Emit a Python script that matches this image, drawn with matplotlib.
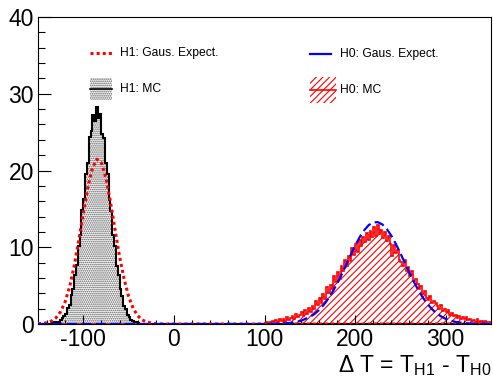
import numpy as np
import matplotlib
matplotlib.use('Agg')
import matplotlib.pyplot as plt
from matplotlib.patches import Rectangle
from matplotlib.lines import Line2D

plt.rcParams['font.family'] = ['Liberation Sans', 'DejaVu Sans']
plt.rcParams['mathtext.default'] = 'regular'
plt.rcParams['axes.unicode_minus'] = False
plt.rcParams['hatch.linewidth'] = 0.8

# binning of the histograms
bin_lo, bin_hi, bin_w = -150, 350, 2

# H1 MC histogram (first bin starts at -134)
h1_start = -134
h1_mc = [0.1, 0.2, 0.3, 0.2, 0.5, 0.8, 1.1, 1.3, 2.1, 2.5,
         3.8, 4.6, 6.4, 7.7, 10.1, 11.6, 14.8, 16.3, 19.6, 21.0,
         24.3, 25.1, 27.2, 26.5, 28.3, 26.9, 27.4, 24.8, 24.2, 21.0,
         19.6, 16.2, 14.7, 11.6, 10.2, 7.5, 6.4, 4.5, 3.7, 2.4,
         2.0, 1.2, 0.9, 0.5, 0.4, 0.2, 0.2, 0.1, 0.0]

# H0 MC histogram (first bin starts at 100)
h0_start = 100
h0_mc = [0.1, 0.3, 0.0, 0.2, 0.4, 0.2, 0.5, 0.3, 0.6, 0.4,
         0.7, 0.4, 0.9, 0.5, 0.8, 1.0, 0.7, 1.3, 0.9, 1.2,
         1.5, 1.0, 1.8, 1.3, 2.1, 1.6, 2.4, 2.0, 3.0, 2.5,
         3.4, 2.7, 3.9, 3.3, 4.8, 4.0, 5.1, 4.6, 6.3, 5.5,
         6.8, 5.9, 7.6, 6.9, 8.3, 7.5, 8.9, 8.2, 9.9, 9.0,
         10.4, 9.4, 10.9, 10.2, 11.4, 10.7, 11.8, 11.0, 12.1, 11.3,
         12.6, 11.5, 12.9, 11.7, 12.3, 11.2, 12.0, 10.8, 11.5, 10.4,
         8.8, 10.3, 9.2, 9.6, 8.4, 8.1, 7.6, 8.3, 6.9, 7.4,
         6.2, 6.9, 5.6, 5.9, 5.2, 4.6, 5.0, 3.9, 4.3, 3.4,
         3.1, 3.6, 2.7, 3.0, 2.8, 2.3, 2.0, 2.5, 1.7, 2.0,
         1.5, 1.8, 1.2, 1.4, 1.0, 1.2, 0.8, 1.1, 0.7, 0.9,
         0.6, 0.9, 0.5, 0.7, 0.4, 0.5, 0.3, 0.6, 0.3, 0.4,
         0.2, 0.4, 0.3, 0.2, 0.3]

# Gaussian expectations
h1_gaus_x = [-150, -145, -140, -135, -130, -125, -120, -115, -110, -105,
             -100, -95, -90, -85, -80, -75, -70, -65, -60, -55,
             -50, -45, -40, -35, -30, -20, -10, 350]
h1_gaus_y = [0.03, 0.07, 0.17, 0.39, 0.82, 1.61, 2.91, 4.89, 7.6, 10.9,
             14.5, 17.8, 20.3, 21.47, 21.0, 19.0, 15.9, 12.3, 8.8, 5.9,
             3.6, 2.05, 1.08, 0.53, 0.24, 0.04, 0.0, 0.0]

h0_gaus_x = [-150, 100, 110, 120, 130, 140,
             150, 155, 160, 165, 170, 175, 180, 185, 190, 195,
             200, 205, 210, 215, 220, 225, 230, 235, 240, 245,
             250, 255, 260, 265, 270, 275, 280, 285, 290, 295, 300,
             310, 320, 330, 340, 350]
h0_gaus_y = [0.0, 0.0, 0.02, 0.06, 0.17, 0.41,
             0.91, 1.29, 1.80, 2.44, 3.23, 4.16, 5.24, 6.42, 7.68, 8.96,
             10.19, 11.3, 12.21, 12.88, 13.24, 13.27, 12.98, 12.37, 11.50, 10.42,
             9.21, 7.94, 6.67, 5.47, 4.37, 3.40, 2.59, 1.92, 1.38, 0.98, 0.67,
             0.29, 0.12, 0.04, 0.013, 0.004]

edges = np.arange(bin_lo, bin_hi + bin_w, bin_w)


def full_hist(start, vals):
    c = np.zeros(len(edges) - 1)
    i = (start - bin_lo) // bin_w
    c[i:i + len(vals)] = vals
    return c


h1 = full_hist(h1_start, h1_mc)
h0 = full_hist(h0_start, h0_mc)

W, H = 493, 379
fig = plt.figure(figsize=(W / 100, H / 100), dpi=100)
ax = fig.add_axes([38 / W, 55 / H, 453 / W, 307 / H])

# histograms
ax.stairs(h0, edges, fill=True, facecolor='white', edgecolor='red',
          hatch='/////', linewidth=0, zorder=1)
ax.stairs(h0, edges, color='red', linewidth=1.2, zorder=2)
ax.stairs(h1, edges, fill=True, facecolor='white', edgecolor='#555555',
          hatch='........', linewidth=0, zorder=1)
ax.stairs(h1, edges, color='black', linewidth=1.5, zorder=2)

# gaussian expectations
ax.plot(h1_gaus_x, h1_gaus_y, color='red', linewidth=2.2,
        linestyle=(0, (1, 1)), dash_capstyle='butt', zorder=3)
ax.plot(h0_gaus_x, h0_gaus_y, color='blue', linewidth=1.6,
        linestyle=(0, (4.5, 2)), zorder=3)

ax.set_xlim(bin_lo, bin_hi)
ax.set_ylim(0, 40)
ax.set_xticks([-100, 0, 100, 200, 300])
ax.set_xticks(np.arange(-140, 351, 20), minor=True)
ax.set_yticks([0, 10, 20, 30, 40])
ax.set_yticks(np.arange(0, 41, 2), minor=True)
ax.tick_params(which='both', direction='in', top=False, right=False,
               labelsize=16.5, width=0.8)
ax.tick_params(axis='y', which='major', length=9.5, pad=3)
ax.tick_params(axis='y', which='minor', length=5)
ax.tick_params(axis='x', which='major', length=6.5, pad=3)
ax.tick_params(axis='x', which='minor', length=3)
for s in ax.spines.values():
    s.set_linewidth(0.8)

fig.text(491 / W, 1 - 372 / H, 'Δ T = T$_{H1}$ - T$_{H0}$', ha='right',
         va='baseline', fontsize=16.5)


# legend drawn by hand in figure pixels
def fx(x):
    return x / W


def fy(y):
    return 1 - y / H


tf = fig.transFigure
fig.add_artist(Line2D([fx(90), fx(112)], [fy(53), fy(53)], color='red',
                      linewidth=2.2, linestyle=(0, (1, 1)), transform=tf))
fig.text(fx(120), fy(53), 'H1: Gaus. Expect.', fontsize=8.7, va='center')

fig.add_artist(Rectangle((fx(90), fy(100)), fx(22), 22 / H, facecolor='white',
                         edgecolor='#555555', hatch='........', linewidth=0,
                         transform=tf))
fig.add_artist(Line2D([fx(90), fx(112)], [fy(89), fy(89)], color='black',
                      linewidth=1.2, transform=tf))
fig.text(fx(120), fy(89), 'H1: MC', fontsize=8.7, va='center')

fig.add_artist(Line2D([fx(310), fx(331)], [fy(54), fy(54)], color='blue',
                      linewidth=1.6, transform=tf))
fig.text(fx(340), fy(54), 'H0: Gaus. Expect.', fontsize=8.7, va='center')

fig.add_artist(Rectangle((fx(310), fy(103)), fx(26), 26 / H, facecolor='white',
                         edgecolor='red', hatch='/////', linewidth=0, transform=tf))
fig.add_artist(Line2D([fx(310), fx(336)], [fy(90), fy(90)], color='red',
                      linewidth=1.2, transform=tf))
fig.text(fx(340), fy(90), 'H0: MC', fontsize=8.7, va='center')

fig.savefig('out.png', dpi=100)
